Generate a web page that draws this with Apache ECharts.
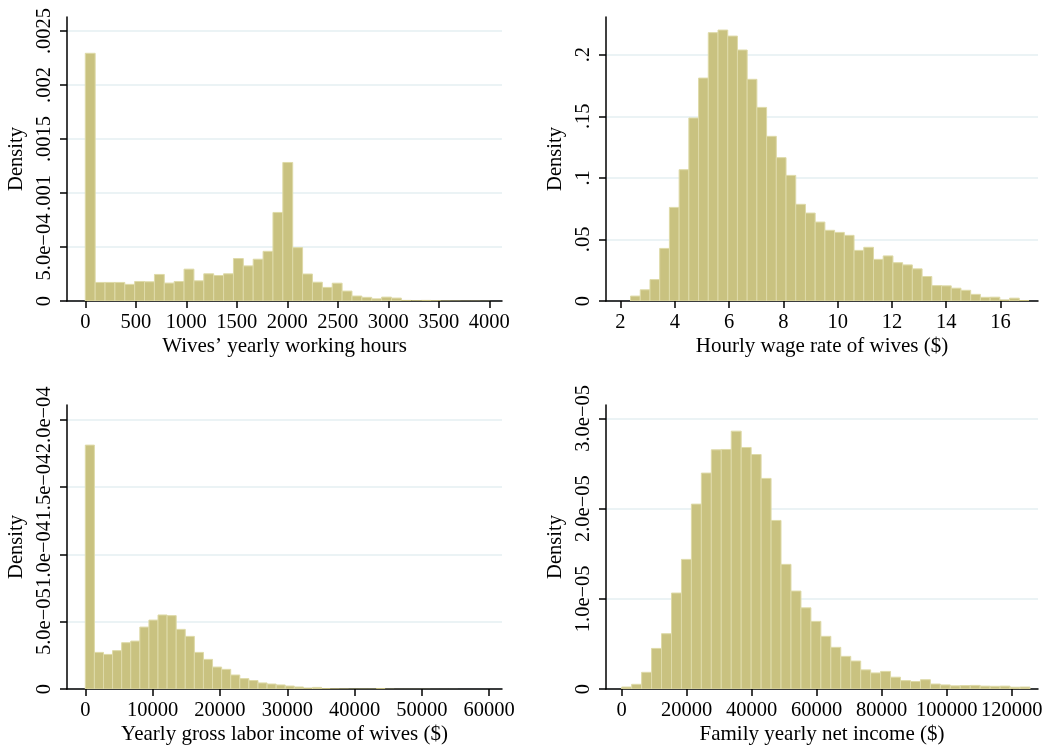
<!DOCTYPE html>
<html>
<head>
<meta charset="utf-8">
<script src="https://cdn.jsdelivr.net/npm/echarts@6/dist/echarts.min.js"></script>
<style>
  html, body { margin: 0; padding: 0; background: #ffffff; }
  #chart { width: 1048px; height: 746px; }
</style>
</head>
<body>
<div id="chart"></div>
<script>
// ---------- DATA ----------
// Panel 1: Wives' yearly working hours (41 bins)
const hoursBinStart = 0;
const hoursBinWidth = 97.8;
const hoursDensity = [
  0.002294, 0.000172, 0.000172, 0.000172, 0.000154, 0.000181, 0.000178, 0.000246, 0.000166, 0.000181,
  0.000295, 0.000187, 0.000252, 0.000236, 0.000252, 0.000393, 0.000325, 0.000387, 0.000460, 0.000820,
  0.001283, 0.000494, 0.000250, 0.000174, 0.000126, 0.000165, 0.000092, 0.000046, 0.000034, 0.000020,
  0.000036, 0.000027, 0.000010, 0.000008, 0.000010, 0.000008, 0.000005, 0.000004, 0.000003, 0.000003,
  0.000002
];
const hoursXTicks = [0, 500, 1000, 1500, 2000, 2500, 3000, 3500, 4000];
const hoursYTicks = [0, 0.0005, 0.001, 0.0015, 0.002, 0.0025];
const hoursYLabels = ['0', '5.0e\u221204', '.001', '.0015', '.002', '.0025'];

// Panel 2: Hourly wage rate of wives (41 bins)
const wageBinStart = 2.37;
const wageBinWidth = 0.358;
const wageDensity = [
  0.0040, 0.0091, 0.0174, 0.0427, 0.0760, 0.1066, 0.1486, 0.1810, 0.2179, 0.2200,
  0.2151, 0.2038, 0.1800, 0.1572, 0.1337, 0.1164, 0.1020, 0.0785, 0.0714, 0.0641,
  0.0574, 0.0557, 0.0533, 0.0411, 0.0436, 0.0338, 0.0366, 0.0311, 0.0293, 0.0261,
  0.0199, 0.0125, 0.0123, 0.0104, 0.0087, 0.0054, 0.0030, 0.0031, 0.0012, 0.0023,
  0.0008
];
const wageXTicks = [2, 4, 6, 8, 10, 12, 14, 16];
const wageYTicks = [0, 0.05, 0.1, 0.15, 0.2];
const wageYLabels = ['0', '.05', '.1', '.15', '.2'];

// Panel 3: Yearly gross labor income of wives (41 bins)
const laborBinStart = 0;
const laborBinWidth = 1350;
const laborDensity = [
  18.12e-5, 2.72e-5, 2.57e-5, 2.85e-5, 3.44e-5, 3.56e-5, 4.60e-5, 5.12e-5, 5.50e-5, 5.45e-5,
  4.43e-5, 3.91e-5, 2.72e-5, 2.20e-5, 1.63e-5, 1.46e-5, 1.04e-5, 0.77e-5, 0.63e-5, 0.45e-5,
  0.37e-5, 0.30e-5, 0.22e-5, 0.15e-5, 0.10e-5, 0.12e-5, 0.07e-5, 0.05e-5, 0.04e-5, 0.03e-5,
  0.03e-5, 0.03e-5, 0.07e-5, 0.02e-5, 0.01e-5, 0.01e-5, 0.01e-5, 0.01e-5, 0.005e-5, 0.005e-5,
  0.005e-5
];
const laborXTicks = [0, 10000, 20000, 30000, 40000, 50000, 60000];
const laborYTicks = [0, 5e-5, 1e-4, 1.5e-4, 2e-4];
const laborYLabels = ['0', '5.0e\u221205', '1.0e\u221204', '1.5e\u221204', '2.0e\u221204'];

// Panel 4: Family yearly net income (41 bins)
const familyBinStart = 0;
const familyBinWidth = 3064;
const familyDensity = [
  0.022e-5, 0.052e-5, 0.185e-5, 0.450e-5, 0.613e-5, 1.064e-5, 1.437e-5, 2.050e-5, 2.394e-5, 2.652e-5,
  2.656e-5, 2.859e-5, 2.678e-5, 2.600e-5, 2.335e-5, 1.869e-5, 1.382e-5, 1.086e-5, 0.900e-5, 0.750e-5,
  0.584e-5, 0.462e-5, 0.362e-5, 0.310e-5, 0.212e-5, 0.178e-5, 0.195e-5, 0.131e-5, 0.093e-5, 0.083e-5,
  0.103e-5, 0.055e-5, 0.045e-5, 0.035e-5, 0.038e-5, 0.040e-5, 0.032e-5, 0.030e-5, 0.032e-5, 0.020e-5,
  0.022e-5
];
const familyXTicks = [0, 20000, 40000, 60000, 80000, 100000, 120000];
const familyYTicks = [0, 1e-5, 2e-5, 3e-5];
const familyYLabels = ['0', '1.0e\u221205', '2.0e\u221205', '3.0e\u221205'];

const xTitles = [
  'Wives\u2019 yearly working hours',
  'Hourly wage rate of wives ($)',
  'Yearly gross labor income of wives ($)',
  'Family yearly net income ($)'
];
const yTitle = 'Density';

// ---------- LAYOUT / STYLE ----------
const FONT = '"Liberation Serif", "Times New Roman", serif';
const FILL = '#c9c280';
const EDGE = '#dedaa8';
const GRIDC = '#e4eff2';

const panels = [
  { start: hoursBinStart, width: hoursBinWidth, dens: hoursDensity, xt: hoursXTicks, yt: hoursYTicks, yl: hoursYLabels,
    grid: { left: 67, top: 17, width: 435, height: 284 }, xmin: -181, xmax: 4126, ymax: 0.00263 },
  { start: wageBinStart, width: wageBinWidth, dens: wageDensity, xt: wageXTicks, yt: wageYTicks, yl: wageYLabels,
    grid: { left: 606, top: 17, width: 432, height: 284 }, xmin: 1.466, xmax: 17.38, ymax: 0.2306 },
  { start: laborBinStart, width: laborBinWidth, dens: laborDensity, xt: laborXTicks, yt: laborYTicks, yl: laborYLabels,
    grid: { left: 67, top: 405, width: 435, height: 284 }, xmin: -2720, xmax: 61900, ymax: 2.11e-4 },
  { start: familyBinStart, width: familyBinWidth, dens: familyDensity, xt: familyXTicks, yt: familyYTicks, yl: familyYLabels,
    grid: { left: 606, top: 405, width: 432, height: 284 }, xmin: -4830, xmax: 128090, ymax: 3.149e-5 }
];

const grids = [], xAxes = [], yAxes = [], series = [];
panels.forEach((p, i) => {
  grids.push(Object.assign({ containLabel: false }, p.grid));
  xAxes.push({
    type: 'value', gridIndex: i, min: p.xmin, max: p.xmax,
    name: xTitles[i], nameLocation: 'middle', nameGap: 35,
    nameTextStyle: { fontFamily: FONT, fontSize: 21, color: '#000' },
    axisLine: { show: true, onZero: false, lineStyle: { color: '#000', width: 1.5 } },
    axisTick: { show: true, length: 7, customValues: p.xt, lineStyle: { color: '#000', width: 1.5 } },
    axisLabel: { customValues: p.xt, margin: 11, fontFamily: FONT, fontSize: 20.5, color: '#000',
                 hideOverlap: false, showMinLabel: true, showMaxLabel: true,
                 formatter: (v) => String(v) },
    splitLine: { show: false }
  });
  yAxes.push({
    type: 'value', gridIndex: i, min: 0, max: p.ymax,
    name: yTitle, nameLocation: 'middle', nameGap: 40, nameRotate: 90,
    nameTextStyle: { fontFamily: FONT, fontSize: 20.5, color: '#000' },
    axisLine: { show: true, onZero: false, lineStyle: { color: '#000', width: 1.5 } },
    axisTick: { show: true, length: 7, customValues: p.yt, lineStyle: { color: '#000', width: 1.5 } },
    axisLabel: { customValues: p.yt, rotate: 90, margin: 12, fontFamily: FONT, fontSize: 20.5, color: '#000',
                 hideOverlap: false, showMinLabel: true, showMaxLabel: true,
                 formatter: (v) => { const k = p.yt.indexOf(v); return k >= 0 ? p.yl[k] : ''; } },
    splitLine: { show: true, lineStyle: { color: GRIDC, width: 1.5 } }
  });
  const data = p.dens.map((d, k) => [p.start + k * p.width, p.start + (k + 1) * p.width, d]);
  series.push({
    type: 'custom', xAxisIndex: i, yAxisIndex: i, data: data,
    encode: { x: [0, 1], y: 2 },
    clip: true,
    renderItem: (params, api) => {
      const a = api.coord([api.value(0), api.value(2)]);
      const b = api.coord([api.value(1), 0]);
      const h = b[1] - a[1];
      return {
        type: 'rect',
        shape: { x: a[0], y: a[1], width: b[0] - a[0], height: h },
        style: { fill: FILL, stroke: h > 1.5 ? EDGE : null, lineWidth: 1 }
      };
    }
  });
});

const chart = echarts.init(document.getElementById('chart'), null, { renderer: 'canvas' });
chart.setOption({
  animation: false,
  backgroundColor: '#ffffff',
  grid: grids, xAxis: xAxes, yAxis: yAxes, series: series
});
</script>
</body>
</html>
